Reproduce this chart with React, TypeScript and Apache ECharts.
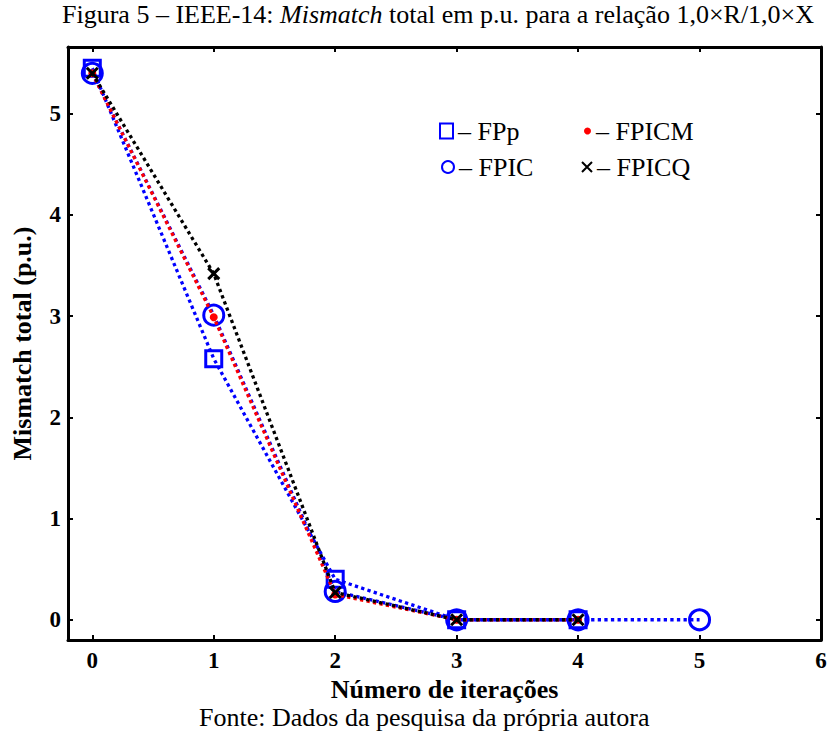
import React, { useEffect, useRef } from "react";
import * as echarts from "echarts";

const iterFPp = [0, 1, 2, 3, 4];
const valFPp = [5.45, 2.58, 0.4, 0, 0];
const iterFPIC = [0, 1, 2, 3, 4, 5];
const valFPIC = [5.4, 3.01, 0.28, 0, 0, 0];
const iterFPICM = [0, 1, 2, 3, 4];
const valFPICM = [5.4, 2.99, 0.25, 0, 0];
const iterFPICQ = [0, 1, 2, 3, 4];
const valFPICQ = [5.4, 3.42, 0.27, 0, 0];

const xTicks = [0, 1, 2, 3, 4, 5, 6];
const yTicks = [0, 1, 2, 3, 4, 5];

const titleText = "Figura 5 – IEEE-14: {i|Mismatch} total em p.u. para a relação 1,0×R/1,0×X";
const sourceText = "Fonte: Dados da pesquisa da própria autora";
const xName = "Número de iterações";
const yName = "Mismatch total (p.u.)";

const SERIF = "'Liberation Serif', 'Times New Roman', serif";
const BLUE = "#0000ff";
const RED = "#ff0000";
const BLACK = "#000000";
const XPATH = "path://M0,0L10,10M10,0L0,10";

const zip = (xs: number[], ys: number[]) => xs.map((x, i) => [x, ys[i]]);

export default function App() {
  const ref = useRef<HTMLDivElement>(null);
  useEffect(() => {
    if (!ref.current) return;
    const chart = echarts.init(ref.current, null, { renderer: "svg" });
    const axisLine = { show: true, onZero: false, lineStyle: { color: BLACK, width: 3 } };
    const tick = (vals: number[]) => ({
      show: true,
      inside: true,
      length: 5,
      customValues: vals,
      lineStyle: { color: BLACK, width: 2 },
    });
    const labelStyle = { fontFamily: SERIF, fontWeight: "bold", fontSize: 23, color: BLACK };
    const nameStyle = { fontFamily: SERIF, fontWeight: "bold", fontSize: 26, color: BLACK };
    const lineStyle = (c: string) => ({ color: c, width: 3.3, type: [3.3, 3.3] });
    const legendText = { fontFamily: SERIF, fontSize: 26, color: BLACK, lineHeight: 28 };
    const mkLegend = (name: string, left: number, top: number, w: number, h: number, icon: string, itemStyle: any) => ({
      show: true,
      left,
      top,
      orient: "vertical",
      itemWidth: w,
      itemHeight: h,
      selectedMode: false,
      padding: 0,
      formatter: "– {name}",
      textStyle: legendText,
      data: [{ name, icon, itemStyle }],
    });
    chart.setOption({
      animation: false,
      backgroundColor: "#ffffff",
      title: [
        {
          text: titleText,
          left: 62,
          top: 1,
          padding: 0,
          textStyle: {
            fontFamily: SERIF,
            fontWeight: "normal",
            fontSize: 26,
            color: BLACK,
            rich: { i: { fontFamily: SERIF, fontStyle: "italic", fontSize: 26, color: BLACK } },
          },
        },
        {
          text: sourceText,
          left: 199,
          top: 704,
          padding: 0,
          textStyle: { fontFamily: SERIF, fontWeight: "normal", fontSize: 26, color: BLACK },
        },
      ],
      legend: [
        mkLegend("FPp", 439, 117, 13, 15, "rect", { color: "transparent", borderColor: BLUE, borderWidth: 2 }),
        mkLegend("FPIC", 441, 153, 12, 12, "circle", { color: "transparent", borderColor: BLUE, borderWidth: 2 }),
        mkLegend("FPICM", 584, 117, 7, 7, "circle", { color: RED, borderWidth: 0 }),
        mkLegend("FPICQ", 581, 153, 10, 10, XPATH, { color: "transparent", borderColor: BLACK, borderWidth: 2 }),
      ],
      grid: { left: 68, right: 16, top: 47, bottom: 95, containLabel: false },
      xAxis: [
        {
          type: "value",
          position: "bottom",
          min: -0.2,
          max: 6,
          axisLine,
          axisTick: tick(xTicks),
          axisLabel: { show: true, customValues: xTicks, margin: 9, ...labelStyle },
          splitLine: { show: false },
          name: xName,
          nameLocation: "middle",
          nameGap: 36,
          nameTextStyle: nameStyle,
        },
        {
          type: "value",
          position: "top",
          min: -0.2,
          max: 6,
          axisLine,
          axisTick: tick(xTicks),
          axisLabel: { show: false },
          splitLine: { show: false },
        },
      ],
      yAxis: [
        {
          type: "value",
          position: "left",
          min: -0.2,
          max: 5.66,
          axisLine,
          axisTick: tick(yTicks),
          axisLabel: { show: true, customValues: yTicks, margin: 7, ...labelStyle },
          splitLine: { show: false },
          name: yName,
          nameLocation: "middle",
          nameGap: 33,
          nameTextStyle: nameStyle,
        },
        {
          type: "value",
          position: "right",
          min: -0.2,
          max: 5.66,
          axisLine,
          axisTick: tick(yTicks),
          axisLabel: { show: false },
          splitLine: { show: false },
        },
      ],
      series: [
        {
          name: "FPp",
          type: "line",
          data: zip(iterFPp, valFPp),
          symbol: "rect",
          symbolSize: 16,
          itemStyle: { color: "transparent", borderColor: BLUE, borderWidth: 3 },
          lineStyle: lineStyle(BLUE),
          z: 2,
        },
        {
          name: "FPIC",
          type: "line",
          data: zip(iterFPIC, valFPIC),
          symbol: "circle",
          symbolSize: 20,
          itemStyle: { color: "transparent", borderColor: BLUE, borderWidth: 3 },
          lineStyle: lineStyle(BLUE),
          z: 3,
        },
        {
          name: "FPICM",
          type: "line",
          data: zip(iterFPICM, valFPICM),
          symbol: "circle",
          symbolSize: 8,
          itemStyle: { color: RED, borderWidth: 0 },
          lineStyle: lineStyle(RED),
          z: 4,
        },
        {
          name: "FPICQ",
          type: "line",
          data: zip(iterFPICQ, valFPICQ),
          symbol: XPATH,
          symbolSize: 11,
          itemStyle: { color: "transparent", borderColor: BLACK, borderWidth: 3 },
          lineStyle: lineStyle(BLACK),
          z: 5,
        },
      ],
    });
    return () => chart.dispose();
  }, []);
  return (
    <div
      ref={ref}
      style={{ position: "fixed", left: 0, top: 0, width: 837, height: 735, background: "#fff" }}
    />
  );
}
